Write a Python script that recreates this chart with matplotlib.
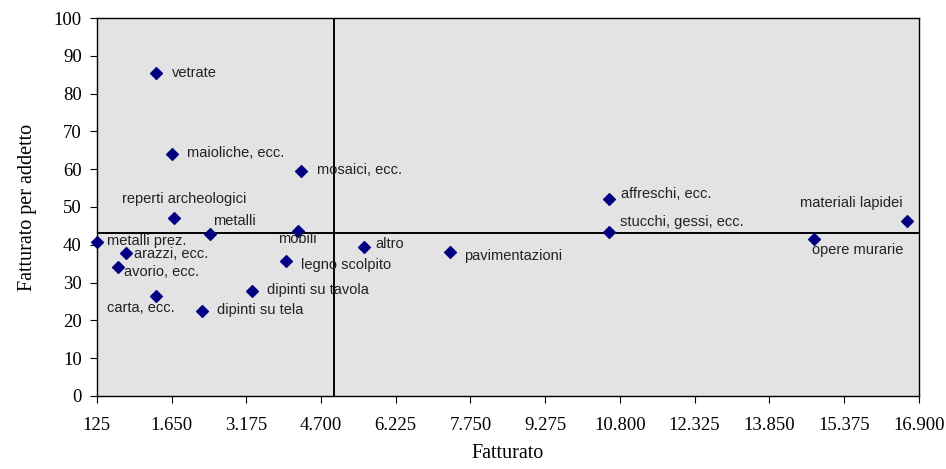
import numpy as np
import matplotlib
matplotlib.use("Agg")
import matplotlib.pyplot as plt

# data
settori = [
    "vetrate", "maioliche, ecc.", "mosaici, ecc.", "reperti archeologici", "metalli",
    "mobili", "metalli prez.", "arazzi, ecc.", "avorio, ecc.", "carta, ecc.",
    "dipinti su tela", "dipinti su tavola", "legno scolpito", "altro", "pavimentazioni",
    "affreschi, ecc.", "stucchi, gessi, ecc.", "opere murarie", "materiali lapidei",
]
fatturato = [1329, 1656, 4289, 1703, 2437, 4227, 125, 717, 564, 1339,
             2268, 3282, 3982, 5568, 7330, 10575, 10575, 14755, 16663]
per_addetto = [85.4, 64.0, 59.5, 47.1, 42.9, 43.7, 40.7, 37.9, 34.2, 26.5,
               22.5, 27.8, 35.7, 39.3, 38.1, 52.1, 43.5, 41.5, 46.3]
media_fatturato = 4970
media_addetto = 43.0

x_ticks = [125, 1650, 3175, 4700, 6225, 7750, 9275, 10800, 12325, 13850, 15375, 16900]
x_ticklabels = ["125", "1.650", "3.175", "4.700", "6.225", "7.750", "9.275",
                "10.800", "12.325", "13.850", "15.375", "16.900"]
y_ticks = list(range(0, 101, 10))

# label placement in pixels relative to the point (dx, dy, ha)
label_pos = {
    "vetrate": (16, 0, "left"),
    "maioliche, ecc.": (15, 1, "left"),
    "mosaici, ecc.": (16, 1, "left"),
    "reperti archeologici": (10, 19, "center"),
    "metalli": (3, 13, "left"),
    "mobili": (-20, -8, "left"),
    "metalli prez.": (10, 1, "left"),
    "arazzi, ecc.": (8, -1, "left"),
    "avorio, ecc.": (6, -5, "left"),
    "carta, ecc.": (-16, -12, "center"),
    "dipinti su tela": (15, 1, "left"),
    "dipinti su tavola": (15, 1, "left"),
    "legno scolpito": (15, -4, "left"),
    "altro": (12, 3, "left"),
    "pavimentazioni": (14, -4, "left"),
    "affreschi, ecc.": (12, 5, "left"),
    "stucchi, gessi, ecc.": (11, 10, "left"),
    "opere murarie": (-2, -11, "left"),
    "materiali lapidei": (-4, 18, "right"),
}

plt.rcParams["font.family"] = ["Liberation Serif", "DejaVu Serif"]

fig = plt.figure(figsize=(9.46, 4.69), dpi=100)
ax = fig.add_axes([0.1025, 0.1557, 0.8686, 0.8059])
ax.set_facecolor("#e3e3e3")

ax.scatter(fatturato, per_addetto, marker="D", s=36, color="#000080", zorder=4, clip_on=False)
ax.axvline(media_fatturato, color="black", lw=1.4, zorder=3)
ax.axhline(media_addetto, color="black", lw=1.4, zorder=3)

for nome, x, y in zip(settori, fatturato, per_addetto):
    dx, dy, ha = label_pos[nome]
    ax.annotate(nome, (x, y), xytext=(dx, dy), textcoords="offset pixels",
                ha=ha, va="center", fontsize=10.5, family="Liberation Sans",
                color="#222222", zorder=5)

ax.set_xlim(x_ticks[0], x_ticks[-1])
ax.set_ylim(0, 100)
ax.set_xticks(x_ticks)
ax.set_xticklabels(x_ticklabels)
ax.set_yticks(y_ticks)
ax.tick_params(direction="out", length=5, width=0.8, labelsize=13.5, color="black")
ax.tick_params(axis="x", pad=10)
ax.tick_params(axis="y", pad=6)
for sp in ax.spines.values():
    sp.set_linewidth(1.0)
    sp.set_color("black")

ax.set_xlabel("Fatturato", fontsize=14.5, labelpad=7)
ax.set_ylabel("Fatturato per addetto", fontsize=14.5, labelpad=12)

fig.savefig("out.png", dpi=100)
